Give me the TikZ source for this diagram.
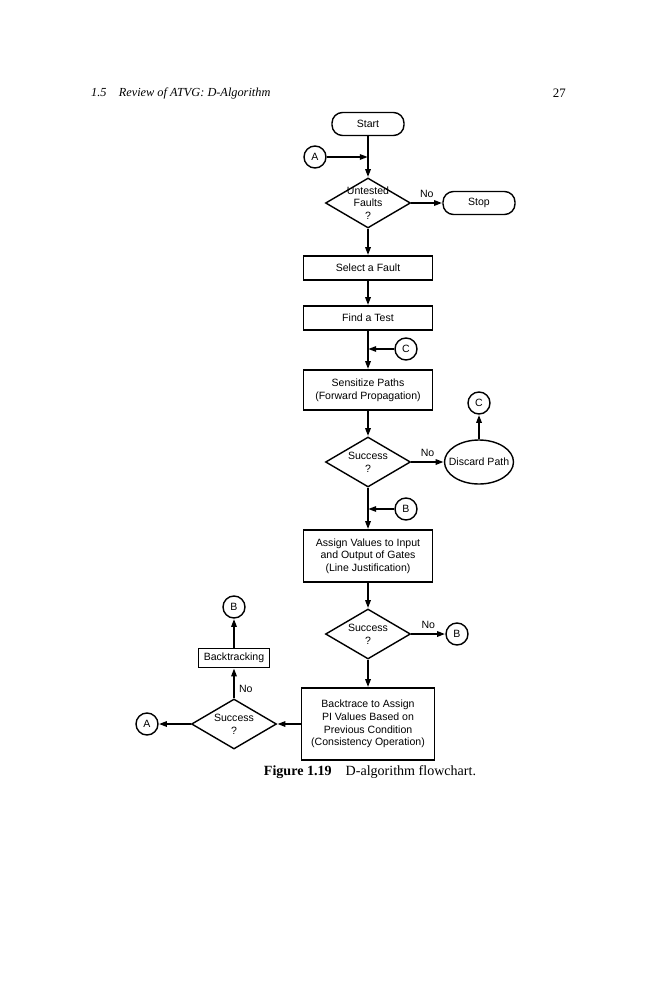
\documentclass[tikz,border=0pt]{standalone}
\usepackage{fontspec}
\setmainfont{Liberation Serif}
\setsansfont{Liberation Sans}
\usetikzlibrary{shapes.geometric,arrows.meta}

\begin{document}
\begin{tikzpicture}
   \tikzstyle{every node}=[font=\sffamily\fontsize{9}{10.8}\selectfont]
   \tikzstyle{term}=[draw,line width=1.2pt,rounded corners=9pt,minimum width=2.16cm,minimum height=0.69cm]
   \tikzstyle{proc}=[draw,line width=1.2pt,minimum width=3.87cm,align=center]
   \tikzstyle{dec}=[draw,line width=1.2pt,diamond,minimum width=2.55cm,minimum height=1.5cm,inner sep=0pt]
   \tikzstyle{conn}=[draw,line width=1.2pt,circle,minimum size=0.66cm,inner sep=0pt]
   \tikzstyle{arrow}=[line width=2pt,draw,-{Triangle[length=7pt,width=4.5pt]}]
   \useasboundingbox (0,0) rectangle (20.1,-30) ;
   \node (head) [anchor=west,font=\itshape\fontsize{10.5}{13}\selectfont] at (2.61,-2.79) {1.5\quad Review of ATVG: D-Algorithm} ;
   \node (page) [anchor=east,font=\fontsize{11}{13}\selectfont] at (17.1,-2.79) {27} ;
   \node (start) [term] at (11.04,-3.72) {Start} ;
   \coordinate [below of=start,node distance=0.99cm] (ja) ;
   \node (a1) [conn,left of=ja,node distance=1.59cm] {A} ;
   \node (dec1) [dec,below of=start,node distance=2.37cm,label={[align=center]center:Untested\\Faults\\?}] {} ;
   \node (stop) [term,right of=dec1,node distance=3.33cm] {Stop} ;
   \node (sel) [proc,below of=dec1,node distance=1.95cm,minimum height=0.72cm] {Select a Fault} ;
   \node (find) [proc,below of=sel,node distance=1.5cm,minimum height=0.72cm] {Find a Test} ;
   \coordinate [below of=find,node distance=0.93cm] (jc) ;
   \node (c1) [conn,right of=jc,node distance=1.14cm] {C} ;
   \node (sens) [proc,below of=find,node distance=2.16cm,minimum height=1.2cm] {Sensitize Paths\\(Forward Propagation)} ;
   \node (dec2) [dec,below of=sens,node distance=2.16cm,label={[align=center]center:Success\\?}] {} ;
   \node (disc) [ellipse,draw,line width=1.2pt,minimum width=2.07cm,minimum height=1.32cm,right of=dec2,node distance=3.33cm,label=center:Discard Path] {} ;
   \node (c2) [conn,above of=disc,node distance=1.77cm] {C} ;
   \coordinate [below of=dec2,node distance=1.41cm] (jb) ;
   \node (b1) [conn,right of=jb,node distance=1.14cm] {B} ;
   \node (assign) [proc,below of=dec2,node distance=2.82cm,minimum height=1.56cm] {Assign Values to Input\\and Output of Gates\\(Line Justification)} ;
   \node (dec3) [dec,below of=assign,node distance=2.34cm,label={[align=center]center:Success\\?}] {} ;
   \node (b2) [conn,right of=dec3,node distance=2.67cm] {B} ;
   \node (back) [proc,below of=dec3,node distance=2.7cm,minimum height=2.16cm,minimum width=3.99cm] {Backtrace to Assign\\PI Values Based on\\Previous Condition\\(Consistency Operation)} ;
   \node (dec4) [dec,left of=back,node distance=4.02cm,label={[align=center]center:Success\\?}] {} ;
   \node (btk) [proc,above of=dec4,node distance=1.98cm,minimum width=2.13cm,minimum height=0.57cm] {Backtracking} ;
   \node (b3) [conn,above of=btk,node distance=1.53cm] {B} ;
   \node (a2) [conn,left of=dec4,node distance=2.61cm] {A} ;
   \path [arrow] (start) -- (dec1) ;
   \path [arrow] (a1) -- (ja) ;
   \path [arrow] (dec1) -- node[above] {No} (stop) ;
   \path [arrow] (dec1) -- (sel) ;
   \path [arrow] (sel) -- (find) ;
   \path [arrow] (find) -- (sens) ;
   \path [arrow] (c1) -- (jc) ;
   \path [arrow] (sens) -- (dec2) ;
   \path [arrow] (dec2) -- node[above] {No} (disc) ;
   \path [arrow] (disc) -- (c2) ;
   \path [arrow] (dec2) -- (assign) ;
   \path [arrow] (b1) -- (jb) ;
   \path [arrow] (assign) -- (dec3) ;
   \path [arrow] (dec3) -- node[above] {No} (b2) ;
   \path [arrow] (dec3) -- (back) ;
   \path [arrow] (back) -- (dec4) ;
   \path [arrow] (dec4) -- (a2) ;
   \path [arrow] (dec4) -- node[pos=0.3,right] {No} (btk) ;
   \path [arrow] (btk) -- (b3) ;
   \node (cap) [font=\fontsize{12}{14}\selectfont] at (11.1,-23.16) {\textbf{Figure 1.19}\quad D-algorithm flowchart.} ;
\end{tikzpicture}
\end{document}
